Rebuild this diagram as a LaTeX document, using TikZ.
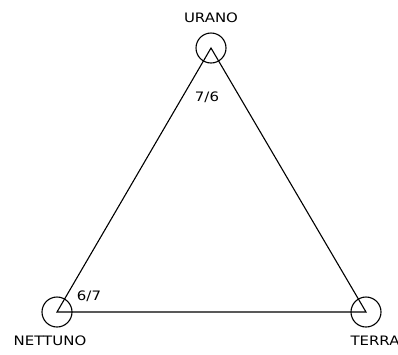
\documentclass[tikz,border=0pt]{standalone}
\usepackage{fontspec}
\newfontfamily\cadfont[FakeStretch=1.15]{DejaVu Sans}
\tikzset{
  planet/.style={circle, draw, line width=1.1pt, minimum size=30pt, inner sep=0pt},
  edge/.style={line width=1.1pt},
  lbl/.style={font=\cadfont\fontsize{13}{13}\selectfont, inner sep=0pt, text=black}
}
\begin{document}
\begin{tikzpicture}[x=1pt,y=-1pt]
\useasboundingbox[fill=white] (0,0) rectangle (398,354);
\node[planet] (u) at (211,48) {};
\node[planet] (n) at (57,312) {};
\node[planet] (t) at (366,312) {};
\draw[edge] (u.center) -- (n.center) -- (t.center) -- cycle;
\node[lbl] (ul) at (211,18) {URANO};
\node[lbl] (nl) at (50,341) {NETTUNO};
\node[lbl] (tl) at (375,341) {TERRA};
\node[lbl] (r1) at (207,97) {7/6};
\node[lbl] (r2) at (89,296) {6/7};
\end{tikzpicture}
\end{document}
